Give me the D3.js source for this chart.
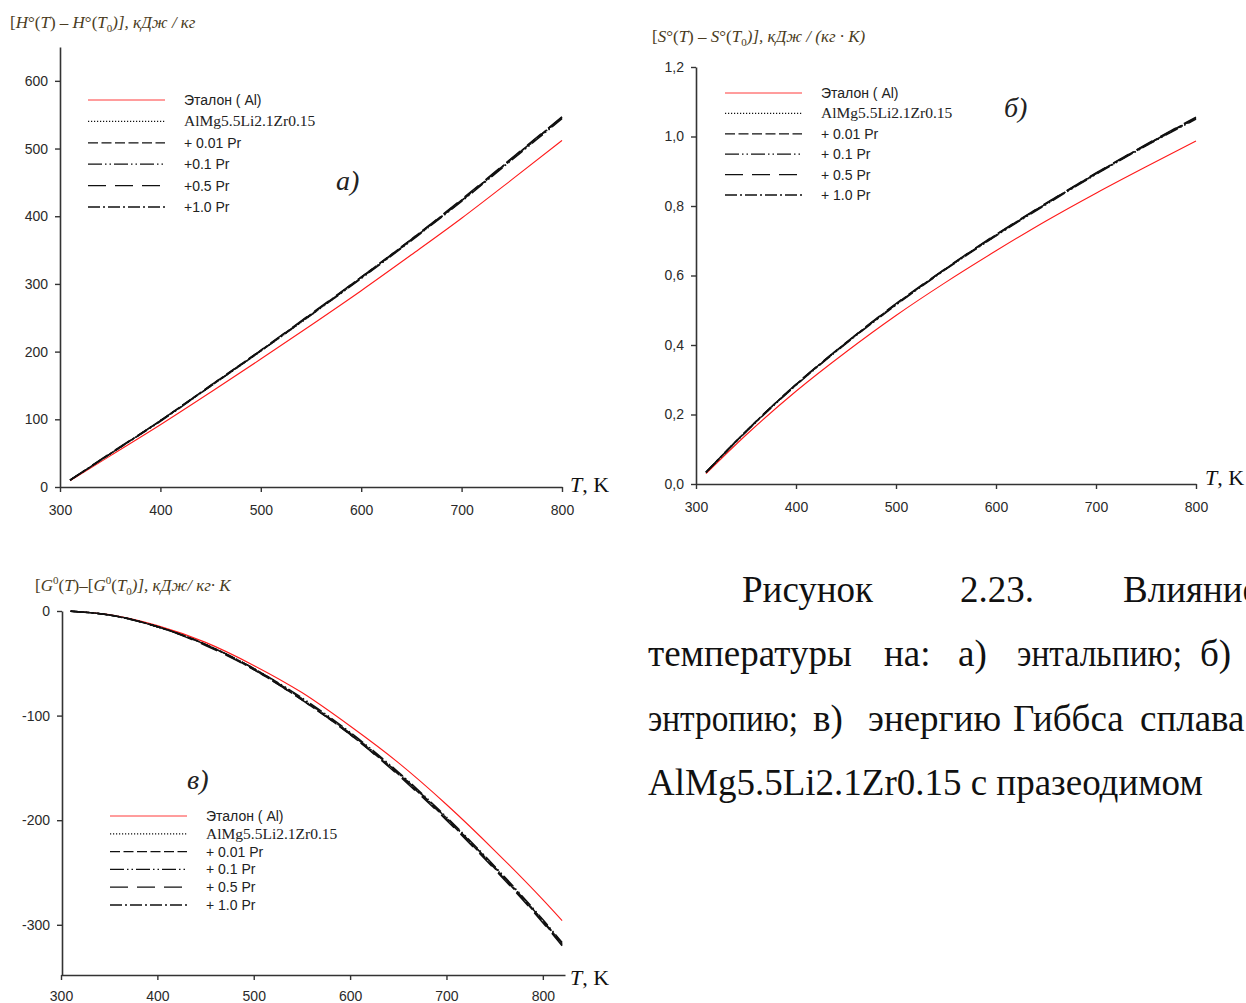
<!DOCTYPE html>
<html>
<head>
<meta charset="utf-8">
<script src="https://cdn.jsdelivr.net/npm/d3@7"></script>
<style>
  html, body { margin: 0; padding: 0; background: #fff; }
  svg { display: block; }
</style>
</head>
<body>
<svg id="fig" width="1246" height="1003"></svg>
<script>
// ---- temperatures, K ----
const tempAB = [310, 350, 400, 450, 500, 550, 600, 650, 700, 750, 800];
const tempC = [310, 350, 400, 450, 500, 550, 600, 650, 700, 750, 800, 820];

// ---- (а) enthalpy H°(T) - H°(T0), кДж/кг ----
const enthalpyRef   = [9, 46, 92, 140, 189, 239, 290, 343, 397, 454, 512];
const enthalpyAlloy = [10, 49, 98, 149, 201, 254, 309, 365, 423, 484, 545];
const enthalpyPr001 = [10, 49, 98, 150, 202, 255, 310, 366, 424, 485, 546];
const enthalpyPr01  = [10, 49, 97, 149, 201, 254, 308, 364, 422, 483, 544];
const enthalpyPr05  = [10, 50, 98, 150, 202, 256, 310, 366, 425, 486, 547];
const enthalpyPr10  = [10, 49, 98, 149, 201, 255, 309, 365, 423, 485, 546];

// ---- (б) entropy S°(T) - S°(T0), кДж/(кг·К) ----
const entropyRef   = [0.030, 0.141, 0.267, 0.380, 0.485, 0.581, 0.671, 0.757, 0.837, 0.913, 0.987];
const entropyAlloy = [0.033, 0.151, 0.285, 0.405, 0.516, 0.619, 0.715, 0.806, 0.892, 0.974, 1.052];
const entropyPr001 = [0.034, 0.152, 0.286, 0.406, 0.518, 0.620, 0.717, 0.807, 0.894, 0.976, 1.054];
const entropyPr01  = [0.033, 0.150, 0.284, 0.404, 0.515, 0.618, 0.714, 0.804, 0.891, 0.973, 1.050];
const entropyPr05  = [0.034, 0.152, 0.287, 0.407, 0.519, 0.621, 0.718, 0.808, 0.895, 0.977, 1.056];
const entropyPr10  = [0.034, 0.151, 0.286, 0.406, 0.517, 0.620, 0.716, 0.806, 0.893, 0.975, 1.053];

// ---- (в) Gibbs energy G°(T) - G°(T0) ----
const gibbsRef   = [-0.2, -3.5, -14, -30, -52, -78, -110, -145, -185, -229, -276, -296];
const gibbsAlloy = [-0.2, -3.8, -15, -32, -55, -84, -117, -155, -198, -245, -296, -318];
const gibbsPr001 = [-0.2, -3.8, -15, -32, -56, -85, -118, -156, -199, -246, -297, -319];
const gibbsPr01  = [-0.2, -3.7, -15, -32, -55, -83, -116, -154, -197, -244, -295, -317];
const gibbsPr05  = [-0.2, -3.8, -15, -33, -56, -85, -118, -157, -200, -247, -298, -320];
const gibbsPr10  = [-0.2, -3.8, -15, -32, -55, -84, -117, -155, -198, -245, -296, -318];

// ---- legend labels ----
const legendA = ["Эталон ( Al)", "AlMg5.5Li2.1Zr0.15", "+ 0.01 Pr", "+0.1 Pr", "+0.5 Pr", "+1.0 Pr"];
const legendBC = ["Эталон ( Al)", "AlMg5.5Li2.1Zr0.15", "+ 0.01 Pr", "+ 0.1 Pr", "+ 0.5 Pr", "+ 1.0 Pr"];

// ---- tick values ----
const tempTicks = [300, 400, 500, 600, 700, 800];
const enthalpyTicks = [0, 100, 200, 300, 400, 500, 600];
const entropyTicks = [0, 0.2, 0.4, 0.6, 0.8, 1.0, 1.2];
const gibbsTicks = [0, -100, -200, -300];

// line styles of the six series
const styles = [
  { stroke: "#ff1a1a", width: 1.0, dash: null },
  { stroke: "#111", width: 1.3, dash: "1.2,1.8" },
  { stroke: "#111", width: 1.3, dash: "10,3.5" },
  { stroke: "#111", width: 1.3, dash: "14,3,1.5,3,1.5,3" },
  { stroke: "#111", width: 1.3, dash: "18,9" },
  { stroke: "#111", width: 1.3, dash: "12,3,2,3" }
];

const svg = d3.select("#fig");
const SANS = "'Liberation Sans', Arial, sans-serif";
const SERIF = "'Liberation Serif', 'Times New Roman', serif";

function panel(cfg) {
  const g = svg.append("g");
  const x = d3.scaleLinear().domain(cfg.xDomain).range(cfg.xRange);
  const y = d3.scaleLinear().domain(cfg.yDomain).range(cfg.yRange);

  // curves: reference first, black alloys on top
  const line = d3.line().curve(d3.curveMonotoneX);
  cfg.series.forEach((vals, i) => {
    const st = styles[i];
    g.append("path")
      .attr("d", line(cfg.temps.map((t, k) => [x(t), y(vals[k])])))
      .attr("fill", "none")
      .attr("stroke", st.stroke)
      .attr("stroke-width", i === 0 ? 1.1 : 1.5)
      .attr("stroke-dasharray", st.dash);
  });

  // axes
  const xAxis = d3.axisBottom(x).tickValues(tempTicks).tickSize(5).tickSizeOuter(0)
    .tickPadding(cfg.xPad).tickFormat(d3.format("d"));
  const yAxis = d3.axisLeft(y).tickValues(cfg.yTicks).tickSize(5).tickSizeOuter(0)
    .tickPadding(7).tickFormat(cfg.yFormat);

  const gx = g.append("g").attr("transform", `translate(0,${cfg.xAxisY})`).call(xAxis);
  const gy = g.append("g").attr("transform", `translate(${cfg.yAxisX},0)`).call(yAxis);
  [gx, gy].forEach(a => {
    a.select(".domain").attr("stroke", "#333").attr("stroke-width", 1.6);
    a.selectAll(".tick line").attr("stroke", "#333").attr("stroke-width", 1.4);
    a.selectAll(".tick text").attr("font-family", SANS).attr("font-size", 14).attr("fill", "#2a2a2a");
  });

  // legend
  cfg.legend.forEach((name, i) => {
    const ly = cfg.legendY + i * cfg.legendStep;
    const st = styles[i];
    g.append("line")
      .attr("x1", cfg.legendX).attr("x2", cfg.legendX + 77)
      .attr("y1", ly).attr("y2", ly)
      .attr("stroke", i === 0 ? "#ff3b3b" : "#111")
      .attr("stroke-width", st.width)
      .attr("stroke-dasharray", st.dash);
    const t = g.append("text")
      .attr("x", cfg.legendX + 96).attr("y", ly + 5)
      .attr("fill", "#222")
      .text(name);
    if (i === 1) t.attr("font-family", SERIF).attr("font-size", 15.5);
    else t.attr("font-family", SANS).attr("font-size", 14);
  });

  // panel letter
  g.append("text")
    .attr("x", cfg.letterX).attr("y", cfg.letterY)
    .attr("font-family", SERIF).attr("font-style", "italic").attr("font-size", 28)
    .attr("fill", "#222").text(cfg.letter);

  // x-axis name
  const tk = g.append("text")
    .attr("x", cfg.tkX).attr("y", cfg.tkY)
    .attr("font-family", SERIF).attr("font-size", 22).attr("fill", "#111");
  tk.append("tspan").attr("font-style", "italic").text("T");
  tk.append("tspan").text(", K");

  // y-axis name
  const tt = g.append("text")
    .attr("x", cfg.titleX).attr("y", cfg.titleY)
    .attr("font-family", SERIF).attr("font-size", 17).attr("fill", "#4a3c22");
  cfg.title.forEach(part => {
    const s = tt.append("tspan").text(part.t);
    if (part.i) s.attr("font-style", "italic");
    if (part.sub) s.attr("font-size", 11).attr("dy", 4);
    if (part.sup) s.attr("font-size", 11).attr("dy", -7);
    if (part.back) s.attr("dy", part.back);
  });
}

const commaFmt = d => d3.format(".1f")(d).replace(".", ",");
const intFmt = d => String(d);   // plain hyphen for negatives

// (а) enthalpy
panel({
  temps: tempAB,
  series: [enthalpyRef, enthalpyAlloy, enthalpyPr001, enthalpyPr01, enthalpyPr05, enthalpyPr10],
  xDomain: [300, 800], xRange: [60, 562],
  yDomain: [0, 650], yRange: [487, 47],
  xAxisY: 487, yAxisX: 60, xPad: 13,
  yTicks: enthalpyTicks, yFormat: intFmt,
  legend: legendA, legendX: 88, legendY: 100, legendStep: 21.4,
  letter: "а)", letterX: 336, letterY: 190,
  tkX: 570, tkY: 492,
  titleX: 10, titleY: 28,
  title: [
    { t: "[" }, { t: "H", i: true }, { t: "°(" }, { t: "T", i: true }, { t: ") – " },
    { t: "H", i: true }, { t: "°(" }, { t: "T", i: true }, { t: "0", sub: true },
    { t: ")], кДж / кг", i: true, back: -4 }
  ]
});

// (б) entropy
panel({
  temps: tempAB,
  series: [entropyRef, entropyAlloy, entropyPr001, entropyPr01, entropyPr05, entropyPr10],
  xDomain: [300, 800], xRange: [696, 1196],
  yDomain: [0, 1.2], yRange: [484, 67],
  xAxisY: 484, yAxisX: 696, xPad: 13,
  yTicks: entropyTicks, yFormat: commaFmt,
  legend: legendBC, legendX: 725, legendY: 93, legendStep: 20.4,
  letter: "б)", letterX: 1004, letterY: 117,
  tkX: 1205, tkY: 485,
  titleX: 652, titleY: 42,
  title: [
    { t: "[" }, { t: "S", i: true }, { t: "°(" }, { t: "T", i: true }, { t: ") – " },
    { t: "S", i: true }, { t: "°(" }, { t: "T", i: true }, { t: "0", sub: true },
    { t: ")], кДж / (кг · К)", i: true, back: -4 }
  ]
});

// (в) Gibbs energy
panel({
  temps: tempC,
  series: [gibbsRef, gibbsAlloy, gibbsPr001, gibbsPr01, gibbsPr05, gibbsPr10],
  xDomain: [300, 823], xRange: [61, 565],
  yDomain: [-348, 0], yRange: [975, 611],
  xAxisY: 975, yAxisX: 62, xPad: 11,
  yTicks: gibbsTicks, yFormat: intFmt,
  legend: legendBC, legendX: 110, legendY: 816, legendStep: 17.8,
  letter: "в)", letterX: 187, letterY: 789,
  tkX: 570, tkY: 985,
  titleX: 35, titleY: 591,
  title: [
    { t: "[" }, { t: "G", i: true }, { t: "0", sup: true }, { t: "(", back: 7 }, { t: "T", i: true },
    { t: ")–[" }, { t: "G", i: true }, { t: "0", sup: true }, { t: "(", back: 7 }, { t: "T", i: true },
    { t: "0", sub: true }, { t: ")], кДж/ кг· К", i: true, back: -4 }
  ]
});

// caption, justified word by word (the last word of line 1 runs past the page edge);
// a third entry fixes the word's width where the line is tight
const caption = [
  { y: 602, words: [["Рисунок", 742], ["2.23.", 960], ["Влияние", 1123]] },
  { y: 666, words: [["температуры", 648], ["на:", 884], ["а)", 958], ["энтальпию;", 1017, 165], ["б)", 1200]] },
  { y: 731, words: [["энтропию;", 648, 150], ["в)", 813], ["энергию", 868], ["Гиббса", 1013], ["сплава", 1140]] },
  { y: 795, words: [["AlMg5.5Li2.1Zr0.15 с празеодимом", 648]] }
];
const cap = svg.append("g").attr("font-family", SERIF).attr("font-size", 37).attr("fill", "#111");
caption.forEach(row => row.words.forEach(([w, x, len]) => {
  const t = cap.append("text").attr("x", x).attr("y", row.y).text(w);
  if (len) t.attr("textLength", len).attr("lengthAdjust", "spacingAndGlyphs");
}));
</script>
</body>
</html>
